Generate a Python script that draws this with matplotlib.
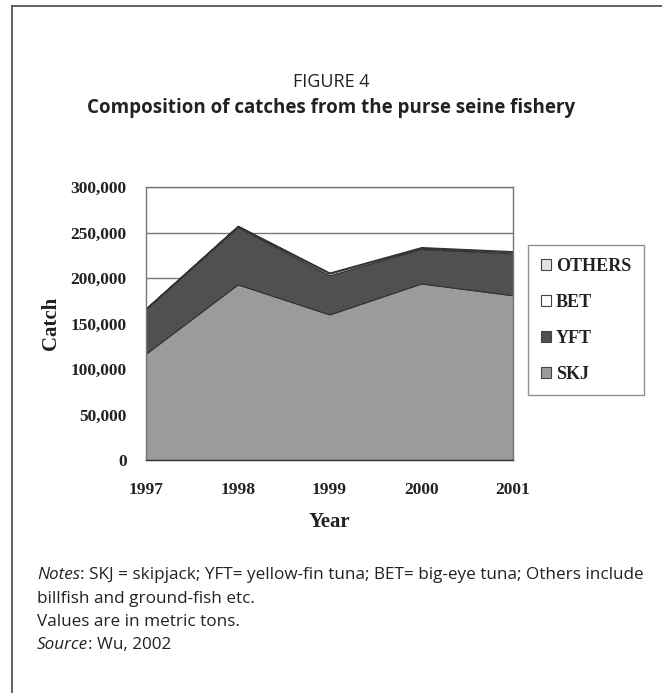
import matplotlib
matplotlib.use("Agg")
import matplotlib.pyplot as plt
from matplotlib.patches import Patch
from matplotlib.lines import Line2D
from matplotlib.ticker import FuncFormatter

years = [1997, 1998, 1999, 2000, 2001]
skj = [117000, 193000, 160000, 194000, 181000]
yft = [49000, 63000, 43000, 38000, 46000]
bet = [500, 1000, 2000, 1000, 1500]
others = [300, 500, 1000, 1000, 1000]
series_names = ["SKJ", "YFT", "BET", "OTHERS"]
series_colors = ["#9b9b9d", "#505052", "#ffffff", "#e2e2e2"]
yticks = [0, 50000, 100000, 150000, 200000, 250000, 300000]

serif = ["Liberation Serif", "DejaVu Serif"]
sans = ["Open Sans", "DejaVu Sans"]
W, H = 662, 693

fig = plt.figure(figsize=(6.62, 6.93), dpi=100)

# outer frame (top and left)
fig.add_artist(Line2D([12/W, 1.0], [1-6/H, 1-6/H], color="#555555", lw=1.3,
                      transform=fig.transFigure))
fig.add_artist(Line2D([12/W, 12/W], [0, 1-6/H], color="#555555", lw=1.3,
                      transform=fig.transFigure))

fig.text(0.5, 1-82/H, "FIGURE 4", ha="center", va="center", fontsize=13,
         family=sans, color="#222222")
fig.text(0.5, 1-108/H, "Composition of catches from the purse seine fishery",
         ha="center", va="center", fontsize=13.5, fontweight="bold", family=sans,
         color="#222222")

ax = fig.add_axes([146/W, 1-460/H, (513-146)/W, (460-187)/H])
ax.stackplot(years, skj, yft, bet, others, colors=series_colors,
             edgecolor="#333333", linewidth=0.8, zorder=2)
ax.set_xlim(1997, 2001)
ax.set_ylim(0, 300000)
ax.set_yticks(yticks)
ax.yaxis.set_major_formatter(FuncFormatter(lambda v, p: f"{int(v):,}"))
ax.set_xticks(years)
ax.grid(axis="y", color="#777777", lw=1.0, zorder=0)
ax.set_axisbelow(True)
for s in ax.spines.values():
    s.set_color("#777777")
    s.set_linewidth(1.0)
ax.spines["bottom"].set_color("#333333")
ax.tick_params(axis="y", length=0, pad=14)
ax.tick_params(axis="x", direction="in", length=4, color="#333333", pad=16)
for lab in ax.get_xticklabels() + ax.get_yticklabels():
    lab.set_family(serif)
    lab.set_fontweight("bold")
    lab.set_fontsize(12.5)
    lab.set_color("#222222")
ax.set_ylabel("Catch", family=serif, fontweight="bold", fontsize=15, labelpad=7,
              color="#222222")
ax.set_xlabel("Year", family=serif, fontweight="bold", fontsize=15, labelpad=10,
              color="#222222")

handles = [Patch(facecolor=c, edgecolor="#444444", linewidth=0.8)
           for c in series_colors][::-1]
labels = series_names[::-1]
leg = fig.legend(handles, labels, loc="upper left",
                 bbox_to_anchor=(528/W, 1-245/H), frameon=True, fancybox=False,
                 prop={"family": serif, "weight": "bold", "size": 13},
                 handlelength=0.55, handleheight=0.55, handletextpad=0.3,
                 labelspacing=1.05, borderpad=0.7, borderaxespad=0)
leg.get_frame().set_edgecolor("#777777")
leg.get_frame().set_linewidth(1.0)
for t in leg.get_texts():
    t.set_color("#222222")

fs = 12.3
x0 = 37
notes_y = [575, 599, 622, 645]
fig.canvas.draw()
r = fig.canvas.get_renderer()

def runs(y, parts):
    x = x0
    for txt, st in parts:
        t = fig.text(x/W, 1-y/H, txt, fontsize=fs, family=sans, style=st,
                     va="center", color="#222222")
        x = t.get_window_extent(renderer=r).x1

runs(notes_y[0], [("Notes", "italic"),
                  (": SKJ = skipjack; YFT= yellow-fin tuna; BET= big-eye tuna; Others include", "normal")])
runs(notes_y[1], [("billfish and ground-fish etc.", "normal")])
runs(notes_y[2], [("Values are in metric tons.", "normal")])
runs(notes_y[3], [("Source", "italic"), (": Wu, 2002", "normal")])

fig.savefig("out.png", dpi=100)
